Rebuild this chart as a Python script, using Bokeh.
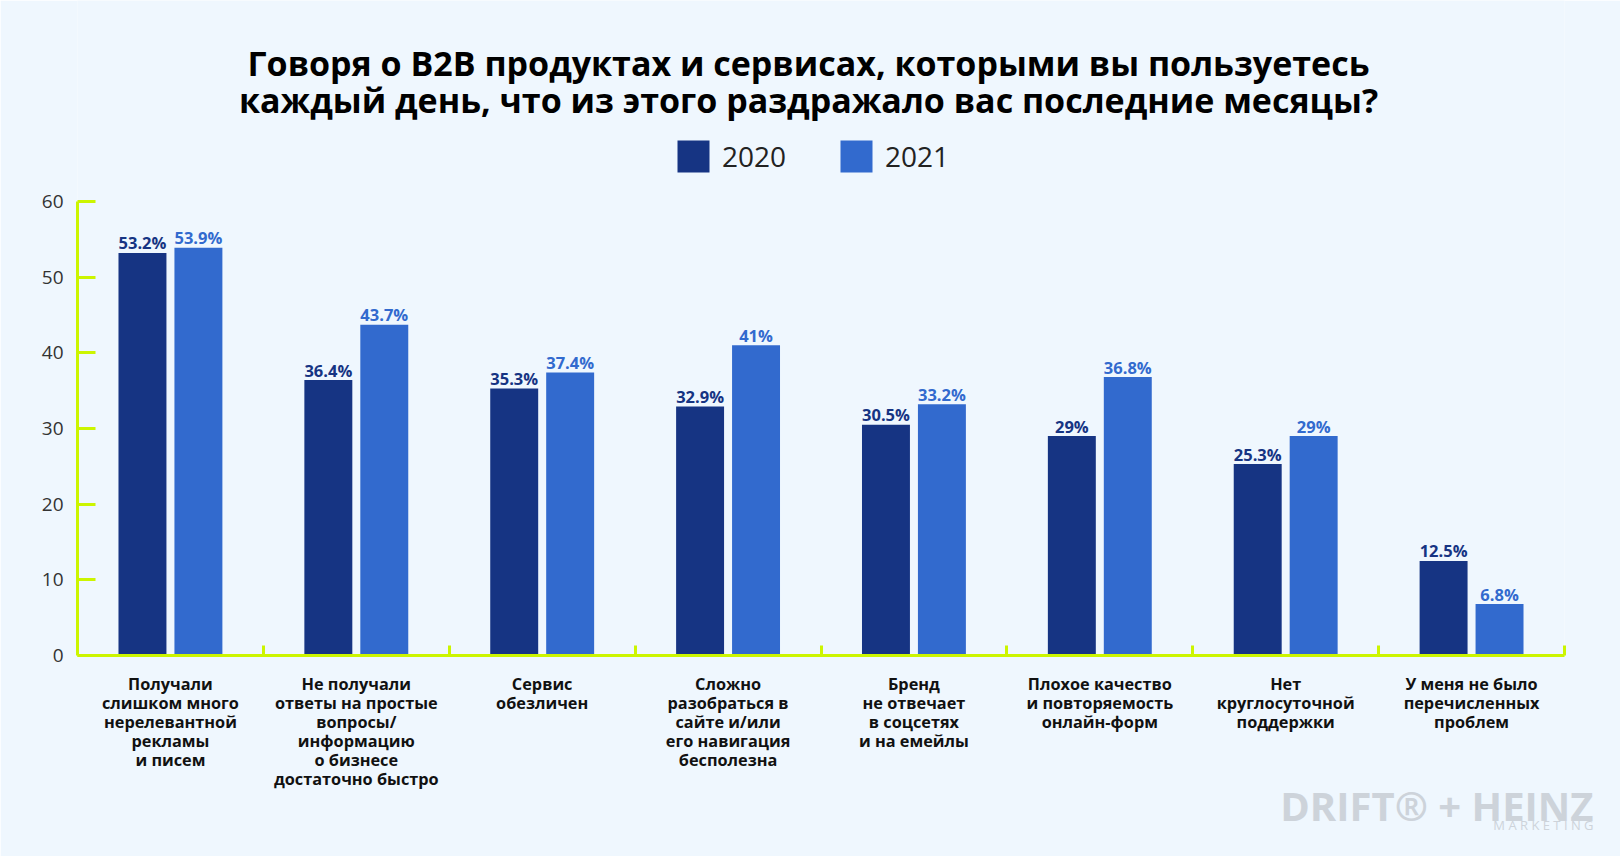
from bokeh.plotting import figure
from bokeh.models import (ColumnDataSource, Range1d, FixedTicker, Label, Legend,
                          LegendItem, Title)
from bokeh.transform import dodge
from bokeh.core.properties import value
from bokeh.embed import file_html
from bokeh.resources import INLINE

# ---- data ----
categories = [
    "Получали\nслишком много\nнерелевантной\nрекламы\nи писем",
    "Не получали\nответы на простые\nвопросы/\nинформацию\nо бизнесе\nдостаточно быстро",
    "Сервис\nобезличен",
    "Сложно\nразобраться в\nсайте и/или\nего навигация\nбесполезна",
    "Бренд\nне отвечает\nв соцсетях\nи на емейлы",
    "Плохое качество\nи повторяемость\nонлайн-форм",
    "Нет\nкруглосуточной\nподдержки",
    "У меня не было\nперечисленных\nпроблем",
]
values_2020 = [53.2, 36.4, 35.3, 32.9, 30.5, 29, 25.3, 12.5]
values_2021 = [53.9, 43.7, 37.4, 41, 33.2, 36.8, 29, 6.8]
series_names = ["2020", "2021"]
y_ticks = [0, 10, 20, 30, 40, 50, 60]

title_lines = ["Говоря о B2B продуктах и сервисах, которыми вы пользуетесь",
               "каждый день, что из этого раздражало вас последние месяцы?"]
logo_text = "DRIFT® + HEINZ"
logo_sub = "M A R K E T I N G"

# ---- styling ----
BG = "#EFF7FE"
C2020 = "#163483"
C2021 = "#326ACE"
LIME = "#CCF500"
LOGO = "#CDD3DA"
FONT = "Open Sans"

W, H = 1620, 856
left, right, bottom_b = 77, 56, 201
frame_h = H - bottom_b
y_top_px = 201           # screen y of value 60
y_top_val = 60
px_per_unit = (frame_h - y_top_px) / y_top_val
ymax = frame_h / px_per_unit

n = len(categories)
xs = list(range(1, n + 1))
px_per_x = (W - left - right) / n
src = ColumnDataSource(dict(
    x=xs, v2020=values_2020, v2021=values_2021,
    l2020=[f"{v:g}%" for v in values_2020],
    l2021=[f"{v:g}%" for v in values_2021],
))

p = figure(width=W, height=H, output_backend="svg", toolbar_location=None,
           title=None, x_range=Range1d(0.5, n + 0.5), y_range=Range1d(0, ymax),
           min_border_left=left, min_border_right=right,
           min_border_top=0, min_border_bottom=bottom_b)
p.background_fill_color = BG
p.border_fill_color = BG
p.outline_line_color = None
p.grid.visible = False

bw = 0.258
off = 0.1505
r1 = p.vbar(x=dodge("x", -off), top="v2020", width=bw, source=src,
            fill_color=C2020, line_color=None)
r2 = p.vbar(x=dodge("x", off), top="v2021", width=bw, source=src,
            fill_color=C2021, line_color=None)

p.text(x=dodge("x", -off), y="v2020", text="l2020", source=src,
       text_align="center", text_baseline="alphabetic", y_offset=-10,
       text_font=value(FONT), text_font_style="bold", text_font_size="16.5px",
       text_color=C2020)
p.text(x=dodge("x", off), y="v2021", text="l2021", source=src,
       text_align="center", text_baseline="alphabetic", y_offset=-10,
       text_font=value(FONT), text_font_style="bold", text_font_size="16.5px",
       text_color=C2021)

# y axis
ya = p.yaxis[0]
ya.ticker = FixedTicker(ticks=y_ticks)
ya.bounds = (0, 60)
ya.axis_line_color = LIME
ya.axis_line_width = 3
ya.major_tick_line_color = LIME
ya.major_tick_line_width = 3
ya.major_tick_in = 18
ya.major_tick_out = 0
ya.minor_tick_line_color = None
ya.major_label_standoff = 14
ya.major_label_text_font = FONT
ya.major_label_text_font_size = "19px"
ya.major_label_text_color = "#333333"

# x axis
xa = p.xaxis[0]
xa.ticker = FixedTicker(ticks=xs, minor_ticks=[x + 0.5 for x in xs])
xa.axis_line_color = LIME
xa.axis_line_width = 3
xa.major_tick_line_color = None
xa.major_tick_in = 0
xa.major_tick_out = 0
xa.minor_tick_line_color = LIME
xa.minor_tick_line_width = 3
xa.minor_tick_in = 10
xa.minor_tick_out = 0
xa.major_label_overrides = {x: c for x, c in zip(xs, categories)}
xa.major_label_standoff = 17
xa.major_label_text_font = FONT
xa.major_label_text_font_style = "bold"
xa.major_label_text_font_size = "16.3px"
xa.major_label_text_color = "#111111"
xa.major_label_text_line_height = 0.865

# legend
legend = Legend(items=[LegendItem(label=series_names[0], renderers=[r1]),
                       LegendItem(label=series_names[1], renderers=[r2])],
                orientation="horizontal", location=(596, 479),
                glyph_width=40, glyph_height=40, label_standoff=9, spacing=50,
                padding=0, margin=0, border_line_color=None,
                background_fill_alpha=0, label_text_font=FONT,
                label_text_font_size="28px", label_text_color="#222222")
p.add_layout(legend, "center")


def dx(fx):
    return 0.5 + (fx - left) / px_per_x


def dy(fy):
    return (frame_h - fy) / px_per_unit


# title (inside the upper part of the frame)
for i, t in enumerate(title_lines):
    p.add_layout(Label(x=dx(808), y=dy(62.5 + 37 * i), text=t, text_align="center",
                       text_baseline="alphabetic", text_font=FONT,
                       text_font_style="bold", text_font_size="34px",
                       text_color="#000000"))

# logo as bottom titles
p.add_layout(Title(text=logo_text, align="right", offset=-29, standoff=-34,
                   text_font=FONT, text_font_style="bold", text_font_size="40px",
                   text_color=LOGO), "below")
p.add_layout(Title(text=logo_sub, align="right", offset=-29, standoff=-3,
                   text_font=FONT, text_font_style="normal", text_font_size="13px",
                   text_color=LOGO), "below")

open("out.html", "w").write(file_html(p, INLINE))
